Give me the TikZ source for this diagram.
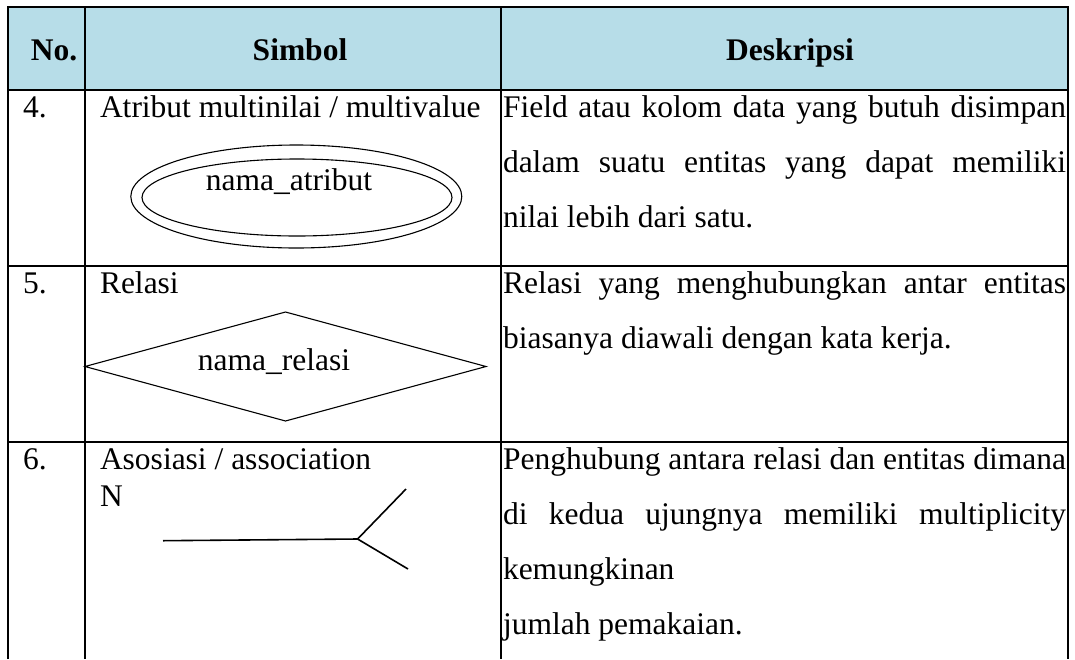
\documentclass[tikz,border=0pt]{standalone}
\usepackage{fontspec}
\setmainfont{Liberation Serif}
\usetikzlibrary{shapes.geometric}
\definecolor{headblue}{HTML}{B7DDE8}
\begin{document}
\begin{tikzpicture}[x=1pt,y=-1pt,
  every node/.style={inner sep=0pt,outer sep=0pt,font=\fontsize{31.5}{37}\selectfont},
  tbl/.style={line width=2.4pt,black},
  shp/.style={draw=black,line width=1.1pt},
  hdr/.style={anchor=base,font=\fontsize{31.5}{37}\selectfont\bfseries},
  txt/.style={anchor=base west},
  conn/.style={line width=1.6pt,black}]
\useasboundingbox (0,0) rectangle (1075,659);
% header background
\fill[headblue] (8,7) rectangle (1068,90);
% table frame
\draw[tbl] (8,659) -- (8,7) -- (1068,7) -- (1068,659);
\draw[tbl] (8,90) -- (1068,90);
\draw[tbl] (8,266) -- (1068,266);
\draw[tbl] (8,442) -- (1068,442);
\draw[tbl] (85,7) -- (85,659);
\draw[tbl] (501,7) -- (501,659);
% header
\node[hdr] (hno) at (54,60) {No.};
\node[hdr] (hsym) at (300,60) {Simbol};
\node[hdr] (hdesc) at (790,60) {Deskripsi};
% row 4
\node[txt] (n4) at (23,117) {4.};
\node[txt] (s4) at (100,117) {Atribut multinilai / multivalue};
\node[shp,ellipse,minimum width=331pt,minimum height=103pt] (ellout) at (296.3,196.5) {};
\node[shp,ellipse,minimum width=310pt,minimum height=77pt] (ellin) at (297,197.5) {};
\node[anchor=base] (atr) at (289,190) {nama\_atribut};
\node[txt] (d4a) at (503,117) {\makebox[563pt][s]{Field atau kolom data yang butuh disimpan}};
\node[txt] (d4b) at (503,172) {\makebox[563pt][s]{dalam suatu entitas yang dapat memiliki}};
\node[txt] (d4c) at (503,227) {nilai lebih dari satu.};
% row 5
\node[txt] (n5) at (23,293) {5.};
\node[txt] (s5) at (100,293) {Relasi};
\node[shp,diamond,minimum width=401pt,minimum height=109pt] (rel) at (285.5,366.5) {};
\node[anchor=base] (rtxt) at (274,370) {nama\_relasi};
\node[txt] (d5a) at (503,293) {\makebox[563pt][s]{Relasi yang menghubungkan antar entitas}};
\node[txt] (d5b) at (503,348) {biasanya diawali dengan kata kerja.};
% row 6
\node[txt] (n6) at (23,469) {6.};
\node[txt] (s6) at (100,469) {Asosiasi / association};
\node[txt] (s6n) at (100,506) {N};
\coordinate (aL) at (163,540.7);
\coordinate (aJ) at (357.6,539);
\coordinate (aU) at (406,489);
\coordinate (aD) at (408,569);
\draw[conn] (aL) -- (aJ) -- (aU);
\draw[conn] (aJ) -- (aD);
\node[txt] (d6a) at (503,469) {\makebox[563pt][s]{Penghubung antara relasi dan entitas dimana}};
\node[txt] (d6b) at (503,524) {\makebox[563pt][s]{di kedua ujungnya memiliki multiplicity}};
\node[txt] (d6c) at (503,579) {kemungkinan};
\node[txt] (d6d) at (503,634) {jumlah pemakaian.};
\end{tikzpicture}
\end{document}
